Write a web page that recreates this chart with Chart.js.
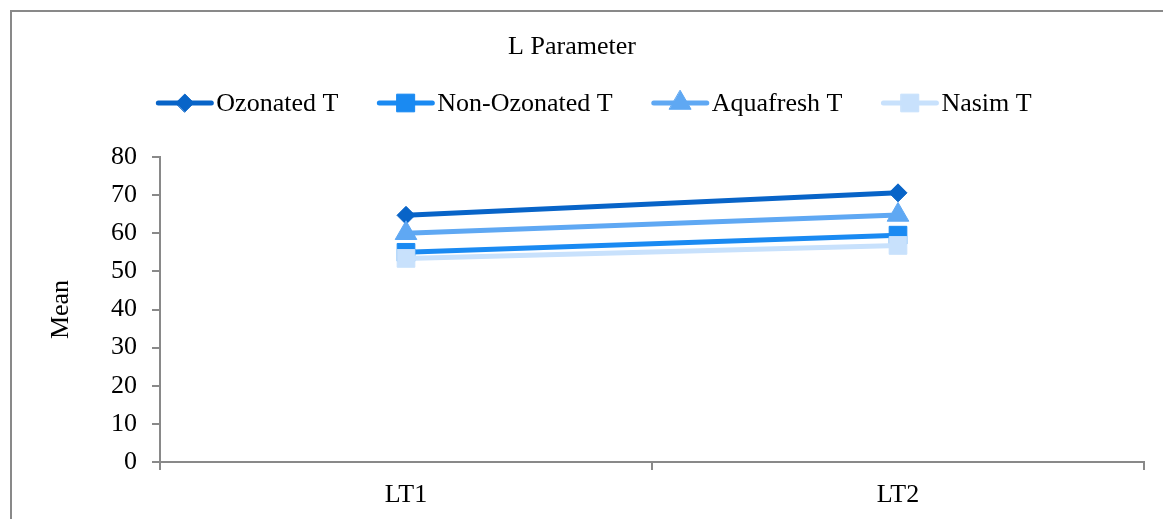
<!DOCTYPE html>
<html>
<head>
<meta charset="utf-8">
<script src="https://cdn.jsdelivr.net/npm/chart.js@4/dist/chart.umd.min.js"></script>
<style>
  body { margin: 0; background: #fff; }
  #wrap { position: absolute; left: 0; top: 0; width: 1163px; height: 519px; }
</style>
</head>
<body>
<div id="wrap"><canvas id="lchart" width="1163" height="519"></canvas></div>
<script>
var categories = ["LT1", "LT2"];
var seriesNames = ["Ozonated T", "Non-Ozonated T", "Aquafresh T", "Nasim T"];
var ozonated = [64.7, 70.6];
var nonOzonated = [55.0, 59.5];
var aquafresh = [60.0, 64.8];
var nasim = [53.4, 56.8];
var yTicks = [0, 10, 20, 30, 40, 50, 60, 70, 80];

var colors = ["#0864c8", "#1a8af2", "#5fa8f3", "#c8e1fc"];
var styles = ["rectRot", "rect", "triangle", "rect"];
var radii = [9, 12.5, 12.5, 12.5];
var values = [ozonated, nonOzonated, aquafresh, nasim];
var FONT = "'Liberation Serif', 'Times New Roman', serif";
var FS = 26;
var AXIS = "#898989";

var datasets = values.map(function (v, i) {
  return {
    label: seriesNames[i],
    data: v,
    borderColor: colors[i],
    backgroundColor: colors[i],
    borderWidth: 5,
    pointStyle: styles[i],
    pointRadius: radii[i],
    pointBackgroundColor: colors[i],
    pointBorderColor: colors[i],
    pointBorderWidth: 1,
    tension: 0,
    order: 4 - i
  };
});

// frame around the chart + legend with line-through-marker samples
var extras = {
  id: "extras",
  beforeDraw: function (chart) {
    var c = chart.ctx;
    c.save();
    c.fillStyle = "#fff";
    c.fillRect(0, 0, chart.width, chart.height);
    c.strokeStyle = AXIS;
    c.lineWidth = 2;
    c.beginPath();
    c.moveTo(11, chart.height);
    c.lineTo(11, 11);
    c.lineTo(chart.width, 11);
    c.stroke();
    c.restore();
  },
  afterDraw: function (chart) {
    var c = chart.ctx;
    c.save();
    c.font = FS + "px " + FONT;
    c.textBaseline = "middle";
    var lineW = 57, gapText = 3, gapItem = 39, y = 103;
    var total = 0;
    chart.data.datasets.forEach(function (ds, i) {
      total += lineW + gapText + c.measureText(ds.label).width;
      if (i < chart.data.datasets.length - 1) total += gapItem;
    });
    var x = 594 - total / 2;
    chart.data.datasets.forEach(function (ds) {
      c.strokeStyle = ds.borderColor;
      c.lineWidth = 5;
      c.lineCap = "round";
      c.beginPath();
      c.moveTo(x + 2, y);
      c.lineTo(x + lineW - 2, y);
      c.stroke();
      c.fillStyle = ds.borderColor;
      c.strokeStyle = ds.borderColor;
      c.lineWidth = 1;
      Chart.helpers.drawPoint(c, { pointStyle: ds.pointStyle, radius: ds.pointRadius, rotation: 0, borderWidth: 1 }, x + lineW / 2, y);
      c.fillStyle = "#000";
      c.fillText(ds.label, x + lineW + gapText, y + 1);
      x += lineW + gapText + c.measureText(ds.label).width + gapItem;
    });
    c.restore();
  }
};

new Chart(document.getElementById("lchart"), {
  type: "line",
  data: { labels: categories, datasets: datasets },
  plugins: [extras],
  options: {
    responsive: false,
    animation: false,
    layout: { padding: { left: 0, right: 19, top: 0, bottom: 0 } },
    plugins: {
      legend: { display: false },
      tooltip: { enabled: false },
      title: {
        display: true,
        text: "L Parameter",
        color: "#000",
        font: { family: FONT, size: FS, weight: "normal", lineHeight: 1 },
        padding: { top: 34, bottom: 97 }
      }
    },
    scales: {
      x: {
        offset: true,
        grid: { display: true, drawOnChartArea: false, drawTicks: true, tickLength: 8, color: AXIS, lineWidth: 2, offset: true },
        border: { display: true, color: AXIS, width: 2 },
        ticks: { color: "#000", padding: 10, font: { family: FONT, size: FS } },
        afterFit: function (s) { s.height = 57; }
      },
      y: {
        min: 0,
        max: 80,
        afterBuildTicks: function (s) { s.ticks = yTicks.map(function (v) { return { value: v }; }); },
        grid: { display: true, drawOnChartArea: false, drawTicks: true, tickLength: 8, color: AXIS, lineWidth: 2 },
        border: { display: true, color: AXIS, width: 2 },
        ticks: { color: "#000", padding: 15, font: { family: FONT, size: FS } },
        title: { display: true, text: "Mean", color: "#000", font: { family: FONT, size: FS }, padding: { top: 46 } },
        afterFit: function (s) { s.width = 160; }
      }
    }
  }
});
</script>
</body>
</html>
